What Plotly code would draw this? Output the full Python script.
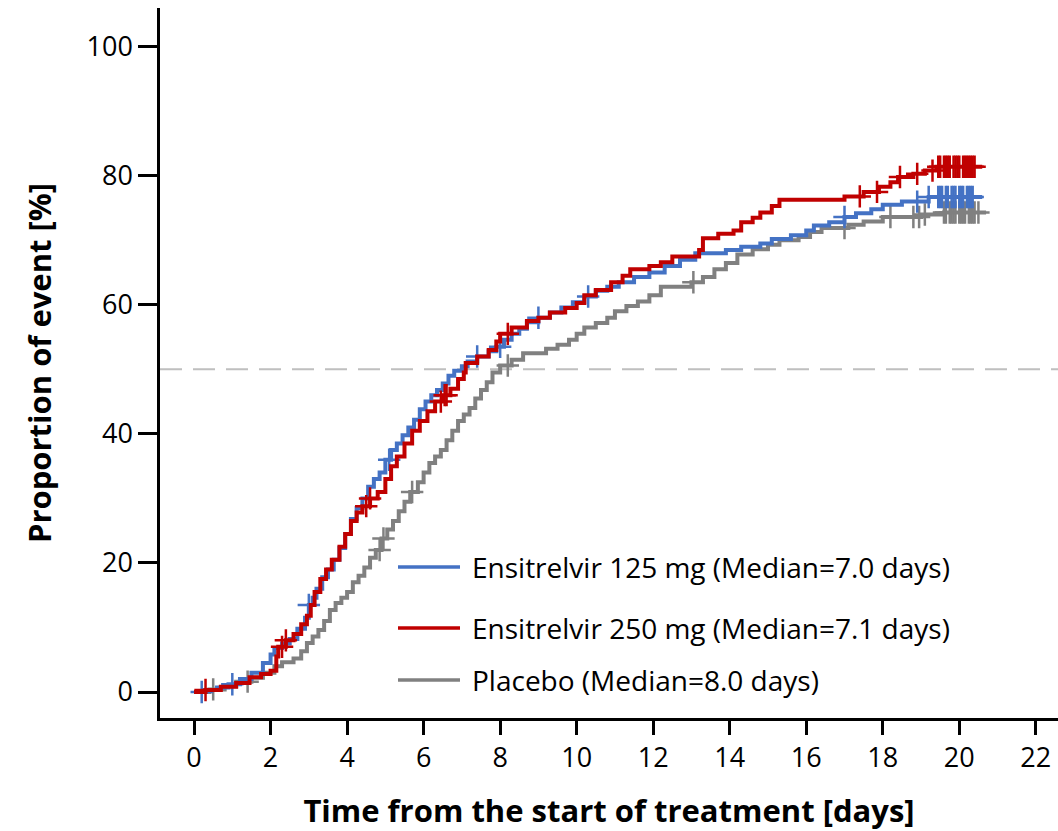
import numpy as np
import plotly.graph_objects as go

# ---------------- data ----------------
blue_t = [0, 0.3, 0.6, 0.9, 1.2, 1.5, 1.8, 2.0, 2.1, 2.3, 2.5, 2.7, 2.9, 3.0, 3.1, 3.2, 3.35, 3.5, 3.65, 3.8,
          3.95, 4.1, 4.25, 4.4, 4.55, 4.7, 4.85, 5.0, 5.15, 5.3, 5.45, 5.6, 5.75, 5.9, 6.05, 6.2, 6.35, 6.5,
          6.65, 6.8, 7.0, 7.15, 7.4, 7.7, 7.9, 8.1, 8.3, 8.5, 8.7, 9.0, 9.3, 9.6, 9.9, 10.2, 10.5, 10.8, 11.1,
          11.5, 11.9, 12.3, 12.7, 13.1, 13.9, 14.3, 14.8, 15.1, 15.6, 16.0, 16.2, 16.6, 17.0, 17.3, 17.7, 18.0,
          18.5, 19.2, 20.6]
blue_v = [0, 0.3, 0.7, 1.2, 2.0, 3.0, 4.5, 5.8, 6.8, 7.5, 8.2, 9.8, 11.5, 13.5, 14.6, 16.0, 17.8, 19.0, 20.5, 22.3,
          24.5, 26.8, 28.5, 30.0, 31.8, 33.0, 34.0, 36.0, 37.5, 38.5, 39.8, 41.0, 42.2, 43.8, 45.0, 46.0, 46.8, 47.8,
          49.0, 49.8, 50.5, 51.2, 52.0, 52.8, 53.5, 54.6, 55.5, 56.3, 57.3, 58.0, 58.8, 59.6, 60.4, 61.3, 62.2, 62.8, 63.5,
          64.3, 65.0, 66.0, 67.0, 68.0, 68.5, 69.0, 69.5, 70.2, 70.8, 71.5, 72.3, 72.8, 73.6, 74.2, 74.8, 75.5,
          76.0, 76.7, 76.7]

red_t = [0, 0.3, 0.7, 1.1, 1.45, 1.75, 2.0, 2.15, 2.2, 2.4, 2.6, 2.8, 2.95, 3.05, 3.15, 3.3, 3.45, 3.6, 3.8, 3.95,
         4.1, 4.25, 4.4, 4.6, 4.8, 5.0, 5.15, 5.3, 5.5, 5.7, 5.9, 6.1, 6.3, 6.5, 6.7, 6.9, 7.05, 7.1, 7.4, 7.7,
         7.9, 8.0, 8.3, 8.7, 9.0, 9.3, 9.7, 10.0, 10.2, 10.5, 10.9, 11.2, 11.4, 11.9, 12.2, 12.5, 13.2, 13.3, 13.7,
         14.1, 14.3, 14.6, 14.8, 15.1, 15.3, 17.0, 17.5, 17.9, 18.2, 18.4, 18.8, 19.1, 19.4, 20.6]
red_v = [0, 0.3, 0.8, 1.4, 2.3, 2.8, 3.3, 5.5, 7.0, 8.0, 9.0, 10.5, 11.8, 13.5, 15.5, 17.5, 19.0, 20.5, 22.5, 24.5,
         26.5, 27.8, 28.8, 30.0, 31.0, 33.0, 35.0, 36.5, 38.5, 40.5, 42.0, 43.5, 45.0, 46.0, 47.0, 48.5, 49.5, 51.0,
         52.0, 53.0, 54.3, 55.5, 56.5, 57.5, 58.0, 58.8, 59.5, 60.3, 61.5, 62.3, 63.5, 64.5, 65.5, 66.0, 66.6, 67.5,
         68.5, 70.3, 71.0, 71.5, 72.8, 73.5, 74.3, 75.3, 76.3, 76.8, 77.5, 78.3, 79.0, 79.8, 80.3, 80.8, 81.4, 81.4]

gray_t = [0, 0.4, 0.8, 1.1, 1.5, 1.8, 2.1, 2.3, 2.6, 2.8, 2.95, 3.1, 3.25, 3.4, 3.55, 3.7, 3.85, 4.0, 4.15, 4.3,
          4.45, 4.6, 4.75, 4.9, 5.05, 5.2, 5.35, 5.5, 5.65, 5.85, 6.0, 6.15, 6.3, 6.45, 6.6, 6.75, 6.9, 7.05, 7.2,
          7.35, 7.5, 7.65, 7.8, 8.0, 8.3, 8.6, 9.2, 9.5, 9.8, 10.0, 10.2, 10.5, 10.8, 11.0, 11.3, 11.6, 11.9, 12.2,
          13.0, 13.3, 13.6, 13.9, 14.2, 14.6, 15.0, 15.3, 15.8, 16.1, 16.4, 17.1, 17.5, 18.0, 19.0, 19.6, 20.7]
gray_v = [0, 0.4, 0.9, 1.6, 2.2, 3.0, 4.0, 4.6, 5.2, 6.3, 7.6, 8.6, 9.6, 11.0, 12.7, 13.8, 14.6, 15.5, 17.0, 18.0,
          19.3, 20.8, 22.0, 23.8, 25.2, 26.5, 28.0, 29.5, 31.0, 32.5, 34.0, 35.5, 36.5, 37.5, 39.0, 40.5, 42.0, 43.0,
          44.0, 45.5, 46.8, 48.0, 49.5, 50.6, 51.5, 52.5, 53.2, 53.8, 54.6, 55.5, 56.5, 57.2, 58.0, 59.0, 59.8, 60.5,
          61.5, 62.8, 63.5, 64.3, 65.5, 66.5, 67.8, 68.6, 69.3, 70.0, 70.5, 71.3, 71.9, 72.4, 72.9, 73.6, 74.0, 74.3, 74.3]

blue_cens = [0.2, 1.0, 3.0, 5.1, 7.4, 8.0, 9.0, 10.3, 17.0, 18.9, 19.2,
             19.45, 19.5, 19.55, 19.65, 19.7, 19.8, 19.85, 19.9, 20.0, 20.05, 20.1, 20.2, 20.25, 20.3, 20.35]
red_cens = [0.3, 2.3, 2.4, 4.5, 4.6, 6.45, 6.55, 6.6, 8.2, 17.4, 17.85, 18.45, 18.9, 19.3,
            19.45, 19.5, 19.6, 19.65, 19.7, 19.75, 19.85, 19.9, 19.95, 20.0, 20.1, 20.15, 20.2, 20.25,
            20.3, 20.35, 20.4]
gray_cens = [0.5, 1.4, 4.85, 4.95, 5.7, 8.2, 13.05, 17.0, 18.2, 18.8, 18.95, 19.1,
             19.6, 19.65, 19.75, 19.8, 19.85, 19.9, 20.0, 20.05, 20.1, 20.15, 20.25, 20.3, 20.35,
             20.4, 20.5]

labels = ["Ensitrelvir 125 mg (Median=7.0 days)",
          "Ensitrelvir 250 mg (Median=7.1 days)",
          "Placebo (Median=8.0 days)"]
x_ticks = list(range(0, 23, 2))
y_ticks = [0, 20, 40, 60, 80, 100]

# ---------------- styles ----------------
BLUE, RED, GRAY = "#4472C4", "#C00000", "#808080"
FONT = "Open Sans"


def step_at(ts, vs, c):
    ts = np.asarray(ts)
    idx = np.searchsorted(ts, c, side="right") - 1
    return [vs[i] for i in idx]


fig = go.Figure()

series = [(blue_t, blue_v, blue_cens, BLUE),
          (red_t, red_v, red_cens, RED),
          (gray_t, gray_v, gray_cens, GRAY)]
for ts, vs, cs, col in [series[2], series[0], series[1]]:
    fig.add_trace(go.Scatter(x=ts, y=vs, mode="lines", line=dict(color=col, width=4, shape="hv"),
                             showlegend=False, hoverinfo="skip"))
    fig.add_trace(go.Scatter(x=cs, y=step_at(ts, vs, cs), mode="markers",
                             marker=dict(symbol="cross-thin", size=16, line=dict(color=col, width=2.5)),
                             showlegend=False, hoverinfo="skip"))

# median reference line
fig.add_shape(type="line", xref="paper", x0=0, x1=1, yref="y", y0=50, y1=50,
              line=dict(color="#BFBFBF", width=2, dash="22px,11px"), layer="below")

# custom legend
L, R, T, B = 160, 1058, 8, 718
W, H = R - L, B - T


def px2paper(px, py):
    return (px - L) / W, (B - py) / H


for lab, col, py in zip(labels, [BLUE, RED, GRAY], [567, 628, 680]):
    x0, y0 = px2paper(398, py)
    x1, _ = px2paper(460, py)
    fig.add_shape(type="line", xref="paper", yref="paper", x0=x0, x1=x1, y0=y0, y1=y0,
                  line=dict(color=col, width=3.5))
    tx, _ = px2paper(470, py)
    fig.add_annotation(xref="paper", yref="paper", x=tx, y=y0, text=lab, showarrow=False,
                       xanchor="left", yanchor="middle", font=dict(family=FONT, size=28, color="black"))

fig.update_layout(
    width=1058, height=831,
    margin=dict(l=L, r=0, t=T, b=831 - B),
    plot_bgcolor="white", paper_bgcolor="white",
    font=dict(family=FONT, color="black"),
)
fig.update_xaxes(range=[-0.89, 22.58], tickvals=x_ticks, ticks="outside", ticklen=14, tickwidth=2.5,
                 tickcolor="black", showline=True, linecolor="black", linewidth=2.5, showgrid=False,
                 zeroline=False, tickfont=dict(family=FONT, size=27),
                 title=dict(text="<b>Time from the start of treatment [days]</b>",
                            font=dict(family=FONT, size=31), standoff=27))
fig.update_yaxes(range=[-4.03, 106], tickvals=y_ticks, ticks="outside", ticklen=19, tickwidth=2.5,
                 tickcolor="black", showline=True, linecolor="black", linewidth=2.5, showgrid=False,
                 zeroline=False, tickfont=dict(family=FONT, size=27),
                 title=dict(text="<b>Proportion of event [%]</b>", font=dict(family=FONT, size=31),
                            standoff=26))

fig.write_html("out.html")
